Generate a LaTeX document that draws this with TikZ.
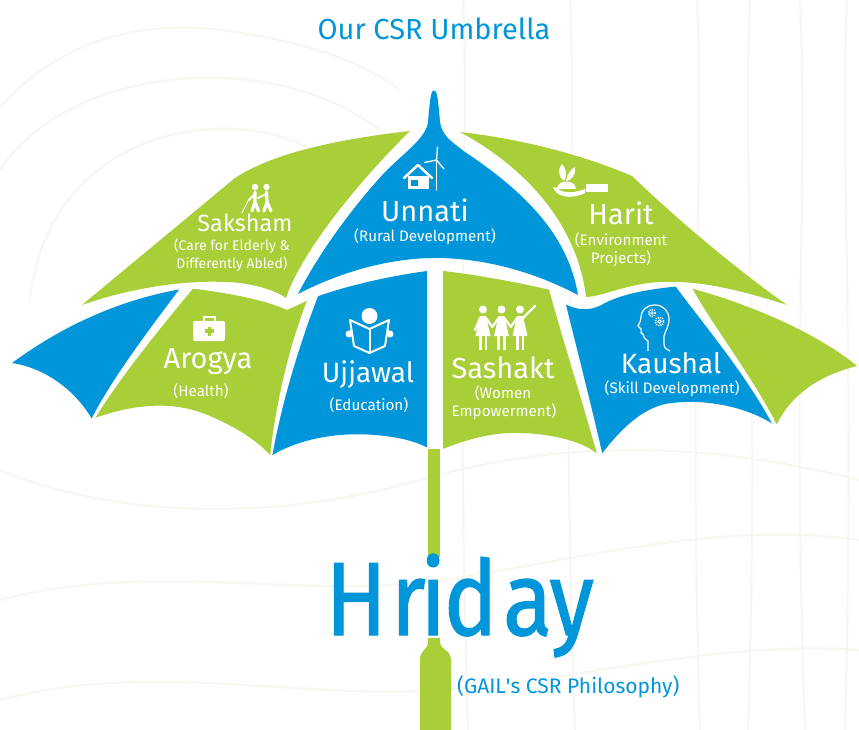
\documentclass[tikz,border=0pt]{standalone}
\usepackage{fontspec}
\setmainfont{Fira Sans}
\newfontfamily\heavyfont[FakeBold=1.2]{Fira Sans}
\definecolor{gblue}{RGB}{0,150,217}
\definecolor{ggreen}{RGB}{168,206,56}
\definecolor{faint}{RGB}{246,247,241}
% one letter of the big word, centred on the current point and narrowed
\newcommand{\hrletter}[1]{\makebox[0pt]{\scalebox{0.87}[1]{#1}}}

\begin{document}
\begin{tikzpicture}[x=1pt,y=-1pt,
  panelname/.style={text=white,font=\fontsize{29}{30}\selectfont,anchor=base,inner sep=0pt},
  panelsub/.style={text=white,font=\fontsize{15.2}{16}\selectfont,anchor=base,inner sep=0pt},
  smallsub/.style={text=white,font=\fontsize{14}{15}\selectfont,anchor=base,inner sep=0pt},
  gap/.style={fill=white},
  iconline/.style={draw=white,line cap=round,line join=round},
  bgline/.style={draw=faint,line width=2pt}]
\useasboundingbox (0,0) rectangle (859,730);
\fill[white] (0,0) rectangle (859,730);

% faint contour lines in the background
\draw[bgline] (463,0) .. controls (470,150) and (455,300) .. (468,730);
\draw[bgline] (570,0) .. controls (578,170) and (560,330) .. (575,730);
\draw[bgline] (697,0) .. controls (705,160) and (688,340) .. (700,730);
\draw[bgline] (750,0) .. controls (742,170) and (760,350) .. (748,730);
\draw[bgline] (800,0) .. controls (808,180) and (792,360) .. (805,730);
\draw[bgline] (847,0) .. controls (840,160) and (855,350) .. (845,730);
\draw[bgline] (0,107) .. controls (60,40) and (140,20) .. (220,30) .. controls (300,40) and (360,60) .. (400,90);
\draw[bgline] (0,170) .. controls (40,110) and (120,80) .. (200,78) .. controls (280,76) and (340,100) .. (380,130);
\draw[bgline] (30,300) .. controls (40,200) and (110,140) .. (200,130) .. controls (260,124) and (300,140) .. (330,160);
\draw[bgline] (0,470) .. controls (120,520) and (280,520) .. (420,480) .. controls (560,440) and (700,440) .. (859,480);
\draw[bgline] (0,600) .. controls (150,560) and (300,600) .. (440,580) .. controls (580,560) and (720,520) .. (859,540);
\draw[bgline] (0,700) .. controls (150,660) and (300,700) .. (440,690) .. controls (580,680) and (720,640) .. (859,650);

% lower row of panels
\fill[gblue] (12,363) .. controls (50,335) and (110,300) .. (188,288)
  .. controls (160,322) and (115,378) .. (92,419)
  .. controls (75,390) and (45,368) .. (12,363) -- cycle;
\fill[ggreen] (188,288) .. controls (220,292) and (260,298) .. (287,310) -- (313,298)
  .. controls (296,340) and (279,400) .. (271,456)
  .. controls (255,438) and (230,424) .. (205,414)
  .. controls (170,400) and (130,405) .. (92,419)
  .. controls (115,378) and (160,322) .. (188,288) -- cycle;
\fill[gblue] (313,298) .. controls (340,288) and (385,276) .. (435,270) -- (435,452)
  .. controls (420,442) and (400,437) .. (375,435)
  .. controls (340,432) and (300,438) .. (271,456)
  .. controls (279,400) and (296,340) .. (313,298) -- cycle;
\fill[ggreen] (435,270) .. controls (480,275) and (520,283) .. (555,291)
  .. controls (566,330) and (586,400) .. (600,456)
  .. controls (585,442) and (555,434) .. (520,433)
  .. controls (490,432) and (465,440) .. (435,452) -- cycle;
\fill[gblue] (555,291) -- (555,298) .. controls (575,312) and (590,312) .. (605,303)
  .. controls (625,293) and (650,289) .. (682,286)
  .. controls (708,320) and (748,372) .. (776,426)
  .. controls (745,405) and (700,398) .. (665,404)
  .. controls (640,410) and (620,430) .. (600,456)
  .. controls (586,400) and (566,330) .. (555,291) -- cycle;
\fill[ggreen] (682,286) .. controls (750,303) and (820,335) .. (857,366)
  .. controls (820,375) and (790,395) .. (776,426)
  .. controls (748,372) and (708,320) .. (682,286) -- cycle;

% tapering gaps between the lower panels
\fill[gap] (182,286) .. controls (155,322) and (112,378) .. (91,420) -- (94,420)
  .. controls (119,378) and (165,322) .. (195,286) -- cycle;
\fill[gap] (309,296) .. controls (291,340) and (276,400) .. (270,457) -- (272,457)
  .. controls (282,400) and (301,340) .. (318,296) -- cycle;
\fill[gap] (549,289) .. controls (560,330) and (582,400) .. (598,457) -- (603,457)
  .. controls (590,400) and (572,330) .. (562,289) -- cycle;
\fill[gap] (674,284) .. controls (700,320) and (745,372) .. (774,427) -- (778,427)
  .. controls (750,372) and (708,320) .. (690,284) -- cycle;
\fill[gap] (427,255) rectangle (443,457);

% upper row of panels
\fill[ggreen] (410,131) .. controls (330,140) and (270,155) .. (235,178) -- (82,305)
  .. controls (130,288) and (190,278) .. (240,283)
  .. controls (262,286) and (278,292) .. (286,298)
  .. controls (300,255) and (355,185) .. (410,131) -- cycle;
\fill[gblue] (428,122) .. controls (429,110) and (430,100) .. (431,95)
  .. controls (432,89) and (436,89) .. (437,95)
  .. controls (438,100) and (439,110) .. (440,122)
  .. controls (442,136) and (452,142) .. (465,152)
  .. controls (525,192) and (568,235) .. (578,295)
  .. controls (540,275) and (490,258) .. (435,258)
  .. controls (390,258) and (340,272) .. (298,294)
  .. controls (318,255) and (350,210) .. (385,172)
  .. controls (405,152) and (426,138) .. (428,122) -- cycle;
\fill[ggreen] (460,132) .. controls (530,140) and (590,158) .. (632,176)
  .. controls (680,222) and (735,268) .. (787,305)
  .. controls (740,290) and (700,280) .. (660,282)
  .. controls (625,284) and (605,296) .. (586,297)
  .. controls (578,228) and (530,170) .. (460,132) -- cycle;

% shaft and handle
\fill[ggreen] (428,449) rectangle (440,557);
\fill[ggreen] (428,638) -- (440,638) -- (440,643)
  .. controls (440,649) and (451,650) .. (451,660) -- (451,730) -- (420,730) -- (420,660)
  .. controls (420,650) and (428,649) .. (428,643) -- cycle;

% titles
\node[anchor=base,text=gblue,font=\fontsize{29}{30}\selectfont,inner sep=0pt] (title) at (434,40) {Our CSR Umbrella};
\node[anchor=base west,text=gblue,font=\heavyfont\fontsize{104}{104}\selectfont,inner sep=0pt] (hriday) at (356,635)
  {\hrletter{H}\hspace{52pt}\hrletter{r}\hspace{25pt}\hrletter{i}\hspace{37.5pt}\hrletter{d}\hspace{57pt}\hrletter{a}\hspace{44pt}\hrletter{y}};
\node[anchor=base west,text=gblue,font=\fontsize{21}{22}\selectfont,inner sep=0pt] (philo) at (457,693) {(GAIL\textquotesingle s CSR Philosophy)};

% panel labels
\node[panelname] (unnati) at (425,222) {Unnati};
\node[panelsub] (unnatisub) at (425,241) {(Rural Development)};
\node[panelname,font=\fontsize{23.5}{24}\selectfont] (saksham) at (245,232) {Saksham};
\node[smallsub] (sakshamsubA) at (232,250) {(Care for Elderly \&};
\node[smallsub] (sakshamsubB) at (232,268) {Differently Abled)};
\node[panelname] (harit) at (621,225) {Harit};
\node[panelsub] (haritsubA) at (621,245) {(Environment};
\node[panelsub] (haritsubB) at (621,263) {Projects)};
\node[panelname] (arogya) at (208,368) {Arogya};
\node[panelsub] (arogyasub) at (201,396) {(Health)};
\node[panelname,font=\fontsize{28}{29}\selectfont] (ujjawal) at (368,382) {Ujjawal};
\node[panelsub] (ujjawalsub) at (369,410) {(Education)};
\node[panelname] (sashakt) at (503,378) {Sashakt};
\node[panelsub] (sashaktsubA) at (503,398) {(Women};
\node[panelsub] (sashaktsubB) at (504,416) {Empowerment)};
\node[panelname,font=\fontsize{28}{29}\selectfont] (kaushal) at (671,373) {Kaushal};
\node[panelsub] (kaushalsub) at (672,393) {(Skill Development)};

% icon: house and wind turbine
\draw[iconline,line width=2.5pt] (404,178) -- (418,165) -- (432,178);
\fill[white] (408,176) rectangle (429,189);
\fill[gblue] (411,180) rectangle (418,186);
\draw[iconline,line width=1.6pt] (436.5,160) -- (436.5,190);
\draw[iconline,line width=1.3pt] (436.5,160) -- (437.5,147) (436.5,160) -- (424.5,162.5) (436.5,160) -- (444,169);

% icon: two elderly people
\fill[white] (255,187) circle (3.2) (266.5,187) circle (3.2);
\draw[iconline,line width=3.2pt] (255,192) -- (255,202) (255,202) -- (252,211) (255,202) -- (258.5,211);
\draw[iconline,line width=3.2pt] (266.5,192) -- (267,202) (267,202) -- (264,211) (267,202) -- (271,211);
\draw[iconline,line width=2pt] (255,194) -- (249,200) (266,194) -- (258,198);
\draw[iconline,line width=1pt] (249,199) -- (242,213);

% icon: hand holding a plant
\fill[white] (564,181) .. controls (557,175) and (558,169) .. (562,164) .. controls (567,170) and (567,176) .. (564,181) -- cycle;
\fill[white] (566,181) .. controls (567,174) and (571,169) .. (575,167) .. controls (576,175) and (572,180) .. (566,181) -- cycle;
\fill[white] (557,189) .. controls (557,179) and (576,179) .. (576,189) -- cycle;
\fill[white] (553,187) .. controls (556,197) and (571,200) .. (585,193) -- (585,189)
  .. controls (575,193) and (563,194) .. (557,188) -- cycle;
\fill[white] (586,184.5) rectangle (608,192.5);

% icon: first-aid kit
\draw[white,line width=2pt] (203.5,322) -- (203.5,316.5) -- (214.5,316.5) -- (214.5,322);
\fill[white,rounded corners=2pt] (193,321) rectangle (225,341);
\fill[ggreen] (207.7,326.5) rectangle (210.9,335.5);
\fill[ggreen] (204.8,329.4) rectangle (213.8,332.6);

% icon: reader with an open book
\fill[white] (369.5,316) circle (8);
\draw[iconline,line width=2pt] (353,328) -- (349,334) (386,328) -- (390,334);
\filldraw[fill=gblue,draw=white,line width=2pt,line join=round]
  (350,320) -- (369.5,329) -- (389,320) -- (385,346) -- (369.5,353) -- (354,346) -- cycle;
\draw[white,line width=2pt] (369.5,329) -- (369.5,353);
\fill[white] (349,334) circle (3.5) (390,334) circle (3.5);

% icon: three women holding hands
\foreach \c in {483,501.5,520} {
  \fill[white] (\c,309.5) circle (4);
  \fill[white] (\c-3,316) -- (\c+3,316) -- (\c+7.5,336) -- (\c-7.5,336) -- cycle;
  \draw[white,line width=2.6pt] (\c-2.8,335) -- (\c-2.8,350) (\c+2.8,335) -- (\c+2.8,350);
}
\draw[iconline,line width=2.2pt] (486,318) -- (492.3,327) -- (498.5,318)
  (504.5,318) -- (510.8,327) -- (517,318) (480,318) -- (475,330) (523,318) -- (535,306);

% icon: head with gears
\draw[white,line width=1.2pt,line join=round] (648,351) -- (648,341)
  .. controls (645,339) and (643,337) .. (643,334) -- (641,333)
  .. controls (641,331) and (642,330) .. (641,329) -- (638,326)
  .. controls (640,322) and (641,320) .. (641,317)
  .. controls (641,310) and (647,305) .. (655,305)
  .. controls (663,305) and (669,311) .. (669,319)
  .. controls (669,327) and (665,331) .. (664,336) -- (664,344)
  .. controls (664,348) and (667,350) .. (670,351);
\draw[white,line width=1.6pt,dash pattern=on 1.1pt off 1.1pt] (652,313) circle (3.4) (659.5,321.5) circle (4.2);
\draw[white,line width=0.8pt] (652,313) circle (1.4) (659.5,321.5) circle (1.8);
\end{tikzpicture}
\end{document}
